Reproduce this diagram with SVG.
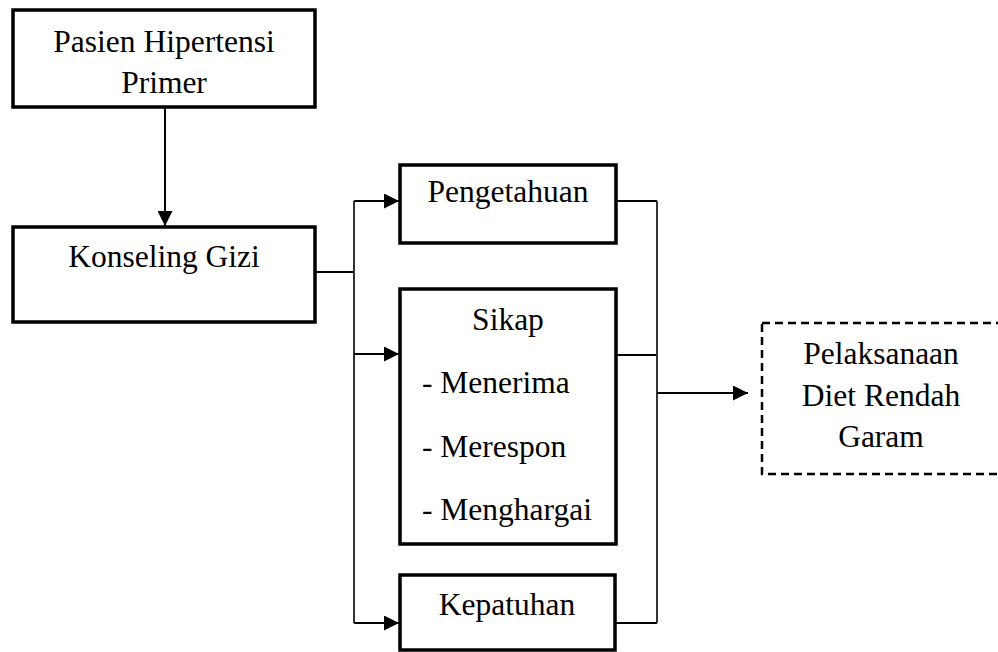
<svg xmlns="http://www.w3.org/2000/svg" width="998" height="652" viewBox="0 0 998 652">
<defs>
<style>
.box{fill:#fff;stroke:#000;stroke-width:3.5}
.dash{fill:#fff;stroke:#000;stroke-width:2.5;stroke-dasharray:8 5}
.t{font-family:"Liberation Serif","Times New Roman",serif;font-size:31.5px;fill:#000}
.c{text-anchor:middle}
.ln{fill:none;stroke:#000;stroke-width:2}
.vl{fill:none;stroke:#333;stroke-width:2}
</style>
<marker id="ah" viewBox="0 0 15 15" refX="15" refY="7.5" markerWidth="15" markerHeight="15" markerUnits="userSpaceOnUse" orient="auto">
<path d="M0,0 L15,7.5 L0,15 Z" fill="#000"/>
</marker>
</defs>
<rect width="998" height="652" fill="#fff"/>
<g id="connectors">
<line class="ln" x1="165" y1="107" x2="165" y2="226" marker-end="url(#ah)"/>
<line class="ln" x1="315" y1="272" x2="354" y2="272"/>
<line class="vl" x1="354" y1="201" x2="354" y2="623"/>
<line class="ln" x1="354" y1="201" x2="399" y2="201" marker-end="url(#ah)"/>
<line class="ln" x1="354" y1="354" x2="399" y2="354" marker-end="url(#ah)"/>
<line class="ln" x1="354" y1="623" x2="399" y2="623" marker-end="url(#ah)"/>
<line class="ln" x1="616" y1="201" x2="657" y2="201"/>
<line class="ln" x1="616" y1="355" x2="657" y2="355"/>
<line class="ln" x1="616" y1="623" x2="657" y2="623"/>
<line class="vl" x1="657" y1="201" x2="657" y2="623"/>
<line class="ln" x1="657" y1="393" x2="748" y2="393" marker-end="url(#ah)"/>
</g>
<g id="pasien">
<rect class="box" x="13" y="10" width="302" height="97"/>
<text class="t c" x="164" y="52">Pasien Hipertensi</text>
<text class="t c" x="164" y="93">Primer</text>
</g>
<g id="konseling">
<rect class="box" x="13" y="227" width="302" height="95"/>
<text class="t c" x="164" y="267">Konseling Gizi</text>
</g>
<g id="pengetahuan">
<rect class="box" x="400" y="165" width="216" height="78"/>
<text class="t c" x="508" y="202">Pengetahuan</text>
</g>
<g id="sikap">
<rect class="box" x="400" y="289" width="216" height="255"/>
<text class="t c" x="508" y="330">Sikap</text>
<text class="t" x="422" y="393">- Menerima</text>
<text class="t" x="422" y="457">- Merespon</text>
<text class="t" x="422" y="520">- Menghargai</text>
</g>
<g id="kepatuhan">
<rect class="box" x="400" y="575" width="215" height="75"/>
<text class="t c" x="507" y="615">Kepatuhan</text>
</g>
<g id="pelaksanaan">
<rect class="dash" x="762" y="323" width="250" height="151"/>
<text class="t c" x="881" y="364">Pelaksanaan</text>
<text class="t c" x="881" y="406">Diet Rendah</text>
<text class="t c" x="881" y="447">Garam</text>
</g>
</svg>
